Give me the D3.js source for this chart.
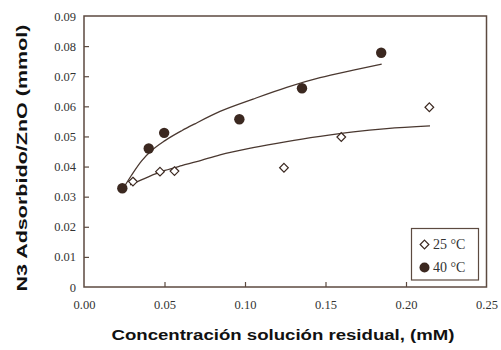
<!DOCTYPE html>
<html>
<head>
<meta charset="utf-8">
<script src="https://cdn.jsdelivr.net/npm/d3@7"></script>
<style>
  html, body { margin: 0; padding: 0; background: #fff; }
  svg { display: block; }
  .serif { font-family: 'Liberation Serif', 'Times New Roman', serif; }
</style>
</head>
<body>
<svg id="chart" width="501" height="350"></svg>
<script>
// Measured adsorption points
const conc25 = [0.0304, 0.0472, 0.0562, 0.1242, 0.1598, 0.2145];
const ads25  = [0.0350, 0.0383, 0.0385, 0.0396, 0.0498, 0.0597];
const conc40 = [0.0238, 0.0402, 0.0498, 0.0965, 0.1354, 0.1846];
const ads40  = [0.0328, 0.0460, 0.0512, 0.0557, 0.0660, 0.0778];

// Fitted isotherm curves
const fitConc40 = [0.0250, 0.0296, 0.0358, 0.0420, 0.0503, 0.0607, 0.0689, 0.0845, 0.1050, 0.1259, 0.1466, 0.1673, 0.1849];
const fitAds40  = [0.0333, 0.0372, 0.0419, 0.0453, 0.0486, 0.0519, 0.0542, 0.0583, 0.0624, 0.0663, 0.0695, 0.0720, 0.0740];
const fitConc25 = [0.0286, 0.0400, 0.0503, 0.0607, 0.0700, 0.0845, 0.1050, 0.1259, 0.1466, 0.1673, 0.1880, 0.2149];
const fitAds25  = [0.0339, 0.0366, 0.0387, 0.0403, 0.0416, 0.0439, 0.0463, 0.0483, 0.0500, 0.0515, 0.0526, 0.0535];

// Tick values and labels
const xTicks = [0, 0.05, 0.10, 0.15, 0.20, 0.25];
const xTickLabels = ["0.00", "0.05", "0.10", "0.15", "0.20", "0.25"];
const yTicks = [0, 0.01, 0.02, 0.03, 0.04, 0.05, 0.06, 0.07, 0.08, 0.09];
const yTickLabels = ["0", "0.01", "0.02", "0.03", "0.04", "0.05", "0.06", "0.07", "0.08", "0.09"];

const seriesNames = ["25 \u00B0C", "40 \u00B0C"];
const xTitle = "Concentración solución residual, (mM)";
const yTitle = "N3 Adsorbido/ZnO (mmol)";

const ink = "#3b2820";
const frame = "#5c4a40";

const svg = d3.select("#chart");
const plotL = 84, plotR = 486.5, plotT = 16, plotB = 287;

const x = d3.scaleLinear().domain([0, 0.25]).range([plotL, plotR]);
const y = d3.scaleLinear().domain([0, 0.09]).range([plotB, plotT]);

// Axes with inward ticks
const xAxis = d3.axisBottom(x).tickValues(xTicks)
  .tickFormat((d, i) => xTickLabels[i]).tickSize(-5).tickPadding(13);
const yAxis = d3.axisLeft(y).tickValues(yTicks)
  .tickFormat((d, i) => yTickLabels[i]).tickSize(-5).tickPadding(8);

const gx = svg.append("g").attr("transform", `translate(0,${plotB})`).call(xAxis);
const gy = svg.append("g").attr("transform", `translate(${plotL},0)`).call(yAxis);
[gx, gy].forEach(g => {
  g.attr("font-family", null).attr("font-size", null);
  g.select(".domain").remove();
  g.selectAll(".tick line").attr("stroke", frame).attr("stroke-width", 1.2);
  g.selectAll(".tick text")
    .attr("class", "serif")
    .style("font-family", "'Liberation Serif', 'Times New Roman', serif")
    .style("font-size", "12.5px")
    .attr("fill", "#333");
});
gx.selectAll(".tick line").filter(d => d === 0 || d === 0.25).remove();
gy.selectAll(".tick line").filter(d => d === 0 || d === 0.09).remove();

// Plot frame
svg.append("rect")
  .attr("x", plotL).attr("y", plotT)
  .attr("width", plotR - plotL).attr("height", plotB - plotT)
  .attr("fill", "none").attr("stroke", frame).attr("stroke-width", 1.5);

// Fitted curves
const line = d3.line().x(d => x(d[0])).y(d => y(d[1])).curve(d3.curveMonotoneX);
[[fitConc40, fitAds40], [fitConc25, fitAds25]].forEach(([cx, cy]) => {
  svg.append("path")
    .datum(cx.map((c, i) => [c, cy[i]]))
    .attr("d", line)
    .attr("fill", "none")
    .attr("stroke", "#4a3830")
    .attr("stroke-width", 1.3);
});

// Markers
const diamond = d3.symbol().type(d3.symbolDiamond2).size(48);
svg.append("g").selectAll("path")
  .data(conc25.map((c, i) => [c, ads25[i]]))
  .join("path")
  .attr("d", diamond)
  .attr("transform", d => `translate(${x(d[0])},${y(d[1])})`)
  .attr("fill", "#fff").attr("stroke", ink).attr("stroke-width", 1.2);

svg.append("g").selectAll("circle")
  .data(conc40.map((c, i) => [c, ads40[i]]))
  .join("circle")
  .attr("cx", d => x(d[0])).attr("cy", d => y(d[1]))
  .attr("r", 5.2).attr("fill", ink);

// Legend
const lg = svg.append("g");
lg.append("rect")
  .attr("x", 411.5).attr("y", 228.5).attr("width", 67).attr("height", 51.5)
  .attr("fill", "#fff").attr("stroke", frame).attr("stroke-width", 1.2);
lg.append("path").attr("d", diamond)
  .attr("transform", "translate(424.5,244.5)")
  .attr("fill", "#fff").attr("stroke", ink).attr("stroke-width", 1.2);
lg.append("circle").attr("cx", 424.5).attr("cy", 267.5).attr("r", 5).attr("fill", ink);
seriesNames.forEach((s, i) => {
  lg.append("text")
    .attr("x", 433).attr("y", 249 + i * 23)
    .style("font-family", "'Liberation Serif', 'Times New Roman', serif")
    .style("font-size", "14px").attr("fill", "#333")
    .text(s);
});

// Axis titles
svg.append("text")
  .attr("x", 283).attr("y", 340)
  .attr("text-anchor", "middle")
  .style("font-family", "'Liberation Sans', Arial, sans-serif")
  .style("font-weight", "bold").style("font-size", "14px").attr("fill", "#111")
  .attr("textLength", 343).attr("lengthAdjust", "spacingAndGlyphs")
  .text(xTitle);

svg.append("text")
  .attr("transform", "translate(27,158) rotate(-90)")
  .attr("text-anchor", "middle")
  .style("font-family", "'Liberation Sans', Arial, sans-serif")
  .style("font-weight", "bold").style("font-size", "14px").attr("fill", "#111")
  .attr("textLength", 267).attr("lengthAdjust", "spacingAndGlyphs")
  .text(yTitle);
</script>
</body>
</html>
